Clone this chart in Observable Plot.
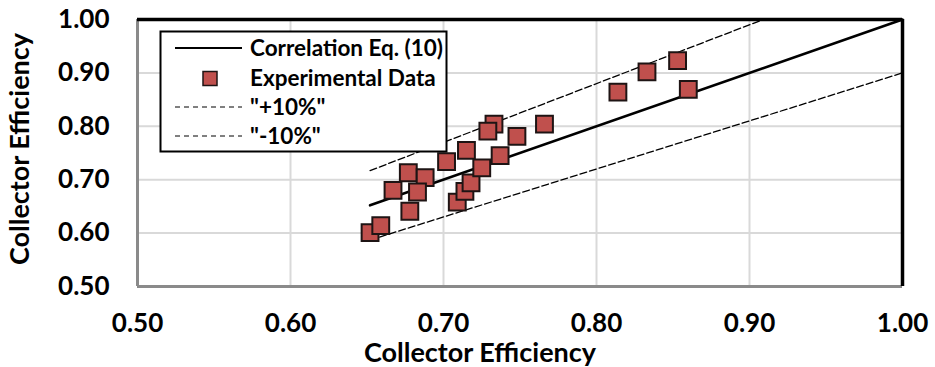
<!DOCTYPE html>
<html>
<head>
<meta charset="utf-8">
<script src="https://cdn.jsdelivr.net/npm/d3@7"></script>
<script src="https://cdn.jsdelivr.net/npm/@observablehq/plot@0.6"></script>
<style>
  body { margin: 0; background: #fff; }
  #wrap { position: relative; width: 935px; height: 367px; }
  #wrap svg { font-family: Lato, "Open Sans", sans-serif; }
</style>
</head>
<body>
<div id="wrap"></div>
<script>
// Experimental data (predicted vs measured collector efficiency)
const expX = [0.652, 0.659, 0.678, 0.667, 0.677, 0.688, 0.683, 0.702, 0.709, 0.714, 0.718,
              0.715, 0.725, 0.737, 0.733, 0.729, 0.748, 0.766, 0.814, 0.833, 0.853, 0.860];
const expY = [0.601, 0.614, 0.641, 0.680, 0.713, 0.704, 0.677, 0.734, 0.658, 0.678, 0.694,
              0.755, 0.722, 0.745, 0.804, 0.791, 0.781, 0.804, 0.864, 0.902, 0.923, 0.869];
// Correlation line and +/-10% bands (end points)
const corrX = [0.652, 1.0];
const corrY = [0.652, 1.0];
const plusX = [0.652, 0.909];
const plusY = [0.717, 1.0];
const minusX = [0.652, 1.0];
const minusY = [0.587, 0.9];
const ticks = [0.5, 0.6, 0.7, 0.8, 0.9, 1.0];
const gridTicks = [0.6, 0.7, 0.8, 0.9];
const legendLabels = ["Correlation Eq. (10)", "Experimental Data", "\"+10%\"", "\"-10%\""];

const pts = expX.map((x, i) => ({x, y: expY[i]}));
const toPts = (xs, ys) => xs.map((x, i) => ({x, y: ys[i]}));

const chart = Plot.plot({
  width: 935,
  height: 367,
  marginLeft: 137,
  marginRight: 33,
  marginTop: 19,
  marginBottom: 81,
  x: {domain: [0.5, 1.0]},
  y: {domain: [0.5, 1.0]},
  marks: [
    Plot.ruleX(gridTicks, {stroke: "#d9d9d9", strokeWidth: 2}),
    Plot.ruleY(gridTicks, {stroke: "#d9d9d9", strokeWidth: 2}),
    Plot.line(toPts(plusX, plusY), {x: "x", y: "y", stroke: "black", strokeWidth: 1.3, strokeDasharray: "7,3"}),
    Plot.line(toPts(minusX, minusY), {x: "x", y: "y", stroke: "black", strokeWidth: 1.3, strokeDasharray: "7,3"}),
    Plot.line(toPts(corrX, corrY), {x: "x", y: "y", stroke: "black", strokeWidth: 2.6}),
    Plot.dot(pts, {x: "x", y: "y", symbol: "square", r: 9.5, fill: "#c0504d", stroke: "#1e1414", strokeWidth: 2}),
    Plot.ruleX([0.5], {stroke: "#8a8a8a", strokeWidth: 3}),
    Plot.ruleY([0.5], {stroke: "#8a8a8a", strokeWidth: 3}),
    Plot.ruleX([1.0], {stroke: "black", strokeWidth: 3.5}),
    Plot.ruleY([1.0], {stroke: "black", strokeWidth: 3.5}),
    Plot.axisX(ticks, {tickSize: 0, tickPadding: 27, tickFormat: d3.format(".2f"), fontSize: 26, fontWeight: "bold", fill: "black", label: null}),
    Plot.axisY(ticks, {tickSize: 0, tickPadding: 28, tickFormat: d3.format(".2f"), fontSize: 26, fontWeight: "bold", fill: "black", label: null}),
    Plot.text(["Collector Efficiency"], {frameAnchor: "bottom", dx: -40, dy: 75, fontSize: 27, fontWeight: "bold", fill: "black"}),
    Plot.text(["Collector Efficiency"], {frameAnchor: "left", textAnchor: "middle", dx: -117, dy: -4, rotate: -90, fontSize: 27, fontWeight: "bold", fill: "black"})
  ]
});
document.getElementById("wrap").appendChild(chart);

// Legend overlay
const lg = d3.select("#wrap").append("svg")
  .attr("width", 290).attr("height", 124)
  .style("position", "absolute").style("left", "159px").style("top", "30px")
  .style("font-family", "Lato, 'Open Sans', sans-serif");
lg.append("rect").attr("x", 1.5).attr("y", 1.5).attr("width", 286).attr("height", 120)
  .attr("fill", "white").attr("stroke", "black").attr("stroke-width", 2);
const rows = [18, 48.5, 77, 106];
legendLabels.forEach((t, i) => {
  const y = rows[i];
  if (i === 0) lg.append("line").attr("x1", 16).attr("x2", 83).attr("y1", y).attr("y2", y).attr("stroke", "black").attr("stroke-width", 2);
  if (i === 1) lg.append("rect").attr("x", 44).attr("y", y - 7).attr("width", 14).attr("height", 14).attr("fill", "#c0504d").attr("stroke", "#1e1414").attr("stroke-width", 1.5);
  if (i >= 2) lg.append("line").attr("x1", 16).attr("x2", 83).attr("y1", y).attr("y2", y).attr("stroke", "black").attr("stroke-width", 1).attr("stroke-dasharray", "5,4");
  lg.append("text").attr("x", 91).attr("y", y).attr("dy", "0.35em").attr("font-size", 22.5).attr("font-weight", "bold").text(t);
});
</script>
</body>
</html>
